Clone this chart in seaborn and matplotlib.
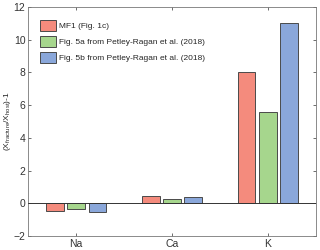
import pandas as pd
import matplotlib.pyplot as plt
import seaborn as sns

# values
elements = ["Na", "Ca", "K"]
mf1 = [-0.45, 0.47, 8.03]
fig5a = [-0.37, 0.26, 5.6]
fig5b = [-0.53, 0.41, 11.0]
series = ["MF1 (Fig. 1c)",
          "Fig. 5a from Petley-Ragan et al. (2018)",
          "Fig. 5b from Petley-Ragan et al. (2018)"]
colors = ["#F48B7D", "#A6D68D", "#8AA7DA"]

rows = []
for name, vals in zip(series, [mf1, fig5a, fig5b]):
    for el, v in zip(elements, vals):
        rows.append({"element": el, "series": name, "value": v})
df = pd.DataFrame(rows)

sns.set_style("ticks")
plt.rcParams['font.family'] = ['Liberation Sans', 'DejaVu Sans']
plt.rcParams['mathtext.fontset'] = 'custom'
plt.rcParams['mathtext.rm'] = 'Liberation Sans'

fig = plt.figure(figsize=(3.2, 2.5), dpi=100)
ax = fig.add_axes([0.088, 0.056, 0.899, 0.916])

sns.barplot(data=df, x="element", y="value", hue="series", order=elements,
            hue_order=series, palette=colors, width=0.66, gap=0.18,
            edgecolor="#4a4a4a", linewidth=0.7, saturation=1, ax=ax)

ax.axhline(0, color="#333333", lw=0.7, zorder=3)
ax.set_xlim(-0.5, 2.5)
ax.set_ylim(-2, 12)
ax.set_yticks(range(-2, 13, 2))
ax.set_xlabel("")
ax.set_ylabel(r"(X$_{\rm fracture}$/X$_{\rm host}$)-1", fontsize=6, labelpad=0.5)
ax.tick_params(direction="in", length=2, width=0.5, labelsize=7.5,
               top=True, right=True, colors="#333333", pad=2)
for s in ax.spines.values():
    s.set_linewidth(0.6)
    s.set_color("#777777")

ax.legend(loc="upper left", frameon=False, fontsize=6, handlelength=1.9,
          handleheight=1.8, handletextpad=0.4, labelspacing=0.5,
          bbox_to_anchor=(0.02, 0.97), borderaxespad=0.3)

plt.savefig("out.png", dpi=100)
